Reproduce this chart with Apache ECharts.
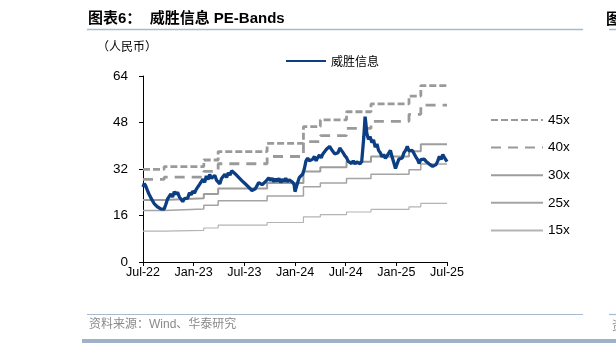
<!DOCTYPE html>
<html><head><meta charset="utf-8">
<script src="https://cdn.jsdelivr.net/npm/echarts@6/dist/echarts.min.js"></script>
<style>html,body{margin:0;padding:0;background:#fff;overflow:hidden}#c{width:616px;height:343px}</style>
</head><body><div id="c"></div><script>
// ---- data (months since Jul-22) ----
const tickLabels = ['Jul-22','Jan-23','Jul-23','Jan-24','Jul-24','Jan-25','Jul-25'];
const priceName = '威胜信息';
const priceMonths = [0.0,0.15,0.3,0.5,0.7,0.9,1.1,1.3,1.5,1.7,1.9,2.1,2.3,2.5,2.7,2.9,3.1,3.3,3.5,3.7,3.9,4.1,4.3,4.5,4.7,4.9,5.1,5.3,5.5,5.7,5.9,6.1,6.3,6.5,6.7,6.9,7.1,7.3,7.5,7.7,7.9,8.1,8.3,8.5,8.7,8.9,9.1,9.3,9.5,9.7,9.9,10.1,10.3,10.5,10.7,10.9,11.1,11.3,11.5,11.7,11.9,12.1,12.3,12.5,12.7,12.9,13.1,13.3,13.5,13.7,13.9,14.1,14.3,14.5,14.7,14.9,15.1,15.3,15.5,15.7,15.9,16.1,16.3,16.5,16.7,16.9,17.1,17.3,17.5,17.7,17.9,18.0,18.1,18.3,18.5,18.7,18.9,19.1,19.3,19.5,19.7,19.9,20.1,20.3,20.5,20.7,20.9,21.1,21.3,21.5,21.7,21.9,22.1,22.3,22.5,22.7,22.9,23.1,23.3,23.5,23.7,23.9,24.1,24.3,24.5,24.7,24.9,25.1,25.3,25.5,25.7,25.9,26.0,26.15,26.3,26.4,26.5,26.7,26.9,27.1,27.3,27.5,27.7,27.9,28.1,28.3,28.5,28.7,28.9,29.1,29.3,29.5,29.7,29.9,30.1,30.3,30.5,30.7,30.9,31.1,31.3,31.5,31.7,31.9,32.1,32.3,32.5,32.7,32.9,33.1,33.3,33.5,33.7,33.9,34.1,34.3,34.5,34.7,34.9,35.1,35.3,35.5,35.7,35.9,36.0];
const priceValues = [25.8,27.0,26.3,24.8,23.4,22.3,21.2,20.2,19.9,19.0,18.7,18.3,18.9,18.2,19.8,21.6,21.9,23.4,22.4,24.2,23.3,24.0,22.4,22.0,20.8,21.8,22.4,22.0,23.8,23.1,24.4,23.7,25.0,25.1,26.7,27.1,28.5,27.4,29.6,28.4,30.1,28.8,29.2,29.8,28.2,27.8,26.9,28.7,29.3,30.2,29.1,30.7,29.9,31.4,31.7,30.4,30.0,29.2,28.9,28.0,27.7,26.9,26.6,25.8,25.5,24.6,24.3,25.2,25.6,27.3,27.5,26.6,26.7,27.6,28.0,29.0,28.0,28.8,27.6,28.6,27.8,28.8,27.4,28.5,27.7,28.8,27.6,28.3,28.9,27.5,26.6,24.2,25.2,27.2,29.0,29.2,30.2,32.0,34.8,35.7,34.8,34.2,35.4,36.3,34.8,36.0,36.8,35.8,37.2,37.6,38.7,39.0,39.8,38.8,38.4,37.2,37.0,37.6,39.2,38.4,37.6,36.6,35.9,34.6,34.7,33.9,34.8,33.7,34.4,34.5,33.8,34.6,38.0,43.1,50.0,47.5,44.3,42.2,43.1,41.1,42.0,39.5,40.6,38.4,37.6,36.2,37.0,35.7,36.5,36.8,38.4,36.1,34.2,32.2,33.8,35.4,35.9,35.8,37.6,38.4,39.8,38.2,37.8,38.4,37.9,36.2,35.3,33.9,35.2,35.6,35.4,34.7,34.6,33.7,33.6,32.9,32.9,33.5,34.7,36.4,35.3,37.0,35.9,36.3,34.5];
const bandNames = ['45x','40x','30x','25x','15x'];
const bandMonths = [0, 2.5, 7.2, 8.9, 14.7, 19.0, 21.0, 24.1, 27.0, 31.5, 32.9, 36];
const band45 = [31.9,32.8,35.1,38.0,40.8,46.6,48.9,51.7,54.4,57.1,60.7,60.7];
const band40 = [28.4,29.2,31.2,33.8,36.3,41.4,43.5,46.0,48.4,50.8,54.0,54.0];
const band30 = [21.3,21.9,23.4,25.3,27.2,31.1,32.6,34.5,36.3,38.1,40.5,40.5];
const band25 = [17.7,18.2,19.5,21.1,22.7,25.9,27.2,28.7,30.2,31.7,33.7,33.7];
const band15 = [10.6,10.9,11.7,12.7,13.6,15.5,16.3,17.2,18.1,19.0,20.2,20.2];
const yMin = 0, yMax = 64, yStep = 16;

// ---- build ----
const zip = (xs, ys) => xs.map((x, i) => [x, ys[i]]);
const bandData = [band45, band40, band30, band25, band15];
const bandStyles = [
  {color:'#9a9a9a', width:2.8, type:[7,3]},
  {color:'#9a9a9a', width:2.8, type:[10,7]},
  {color:'#9d9d9d', width:2, type:'solid'},
  {color:'#a4a4a4', width:1.5, type:'solid'},
  {color:'#b4b4b4', width:1.2, type:'solid'}
];
const latin = '"Liberation Sans", Arial, sans-serif';
const cjk = '"Noto Sans CJK SC", sans-serif';
const series = bandNames.map((n, i) => ({
  name: n, type: 'line', step: 'end', symbol: 'none', showSymbol: false, z: 2,
  lineStyle: bandStyles[i], itemStyle: {color: bandStyles[i].color},
  data: zip(bandMonths, bandData[i])
}));
series.push({
  name: priceName, type: 'line', symbol: 'none', showSymbol: false, z: 5,
  lineStyle: {color: '#0c3e83', width: 3.3}, itemStyle: {color: '#0c3e83'},
  data: zip(priceMonths, priceValues)
});

const chart = echarts.init(document.getElementById('c'), null, {renderer: 'canvas'});
chart.setOption({
  animation: false,
  backgroundColor: '#fff',
  grid: {left: 143, right: 169, top: 76, bottom: 81, containLabel: false},
  xAxis: {
    type: 'value', min: 0, max: 36, interval: 6,
    axisLine: {lineStyle: {color: '#000', width: 1}},
    axisTick: {show: true, length: 4, lineStyle: {color: '#000'}},
    splitLine: {show: false},
    axisLabel: {color: '#000', fontSize: 12.5, fontFamily: latin, margin: 4,
      formatter: v => tickLabels[Math.round(v / 6)] || ''}
  },
  yAxis: {
    type: 'value', min: yMin, max: yMax, interval: yStep,
    axisLine: {show: true, lineStyle: {color: '#000', width: 1}},
    axisTick: {show: true, length: 4, lineStyle: {color: '#000'}},
    splitLine: {show: false},
    axisLabel: {color: '#000', fontSize: 13.5, fontFamily: latin, margin: 15}
  },
  legend: [
    {data: [priceName], left: 285, top: 55, padding: 0, itemWidth: 40, itemHeight: 14, itemGap: 10,
      itemStyle: {opacity: 0},
      textStyle: {fontSize: 12, color: '#000', fontFamily: cjk}},
    {data: bandNames, orient: 'vertical', left: 490, top: 113, padding: 0, itemWidth: 52, itemHeight: 14, itemGap: 13.6,
      itemStyle: {opacity: 0},
      textStyle: {fontSize: 13.5, color: '#000', fontFamily: latin}}
  ],
  graphic: [
    {type: 'text', left: 88, top: 11, style: {text: '图表6：  威胜信息 PE-Bands', fontSize: 15, fontWeight: 'bold', fill: '#000', fontFamily: '"Liberation Sans","Noto Sans CJK SC",sans-serif'}},
    {type: 'line', shape: {x1: 87, y1: 29.5, x2: 583, y2: 29.5}, style: {stroke: '#a9bacd', lineWidth: 1.5}},
    {type: 'text', left: 606, top: 11, style: {text: '图', fontSize: 15, fontWeight: 'bold', fill: '#000', fontFamily: cjk}},
    {type: 'line', shape: {x1: 609, y1: 29.5, x2: 616, y2: 29.5}, style: {stroke: '#a9bacd', lineWidth: 1.5}},
    {type: 'text', left: 97, top: 40, style: {text: '（人民币）', fontSize: 12, fill: '#000', fontFamily: cjk}},
    {type: 'line', shape: {x1: 87, y1: 314.5, x2: 583, y2: 314.5}, style: {stroke: '#a9bacd', lineWidth: 1.2}},
    {type: 'line', shape: {x1: 609, y1: 314.5, x2: 616, y2: 314.5}, style: {stroke: '#a9bacd', lineWidth: 1.2}},
    {type: 'text', left: 89, top: 319, style: {text: '资料来源：Wind、华泰研究', fontSize: 12, fill: '#8a8a8a', fontFamily: '"Liberation Sans","Noto Sans CJK SC",sans-serif'}},
    {type: 'text', left: 612, top: 319, style: {text: '资', fontSize: 12, fill: '#8a8a8a', fontFamily: cjk}},
    {type: 'rect', shape: {x: 82, y: 339, width: 534, height: 4}, style: {fill: '#9fb2c8'}}
  ],
  series: series
});
</script></body></html>
